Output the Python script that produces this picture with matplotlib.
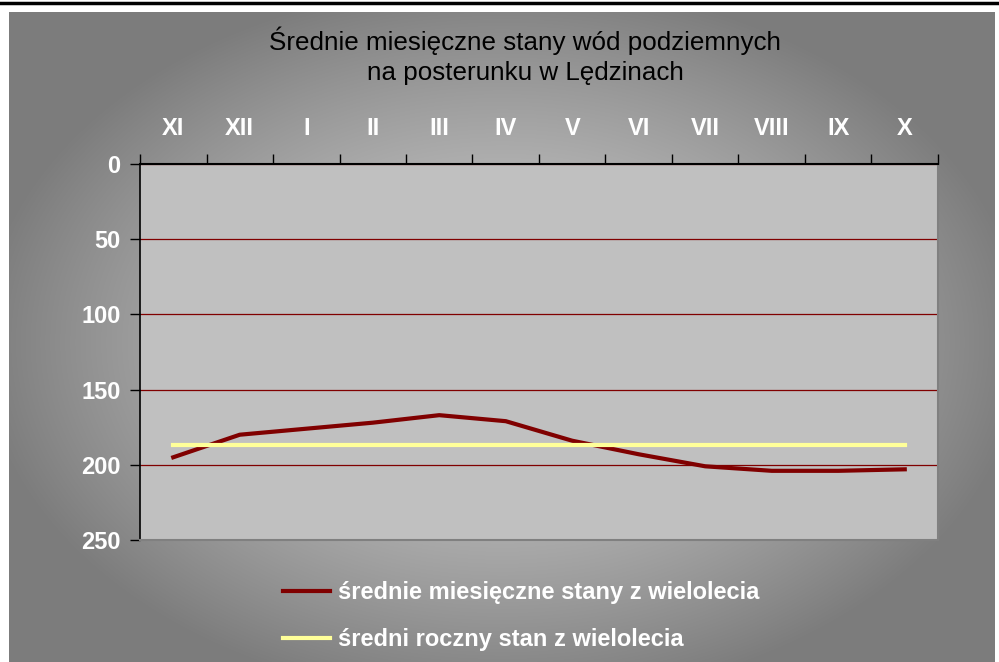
import numpy as np
import matplotlib
matplotlib.use("Agg")
import matplotlib.pyplot as plt
from matplotlib.lines import Line2D

# miesiace roku hydrologicznego
miesiace = ["XI", "XII", "I", "II", "III", "IV", "V", "VI", "VII", "VIII", "IX", "X"]
stany_miesieczne = [195, 180, 176, 172, 167, 171, 184, 193, 201, 204, 204, 203]
stan_roczny = [187] * 12
yticki = [0, 50, 100, 150, 200, 250]

plt.rcParams['font.family'] = ['Liberation Sans Narrow', 'Liberation Sans', 'DejaVu Sans']

fig = plt.figure(figsize=(9.99, 6.62), dpi=100)
fig.patch.set_facecolor("white")

# tlo z gradientem
W, H = 999, 662
tlo = fig.add_axes([9 / W, 0, (995 - 9) / W, 1 - 12 / H])
tlo.set_axis_off()
yy, xx = np.mgrid[0:650, 0:986]
cx, cy = 493, 330
d = np.sqrt(((xx - cx) / 520.0) ** 2 + ((yy - cy) / 360.0) ** 2)
d = np.clip(d, 0, 1)
szarosc = 0.80 - 0.31 * d ** 1.4
tlo.imshow(np.dstack([szarosc] * 3), aspect="auto", extent=[0, 1, 0, 1])

# czarna linia u gory
fig.add_artist(Line2D([0, 998 / W], [1 - 2.5 / H, 1 - 2.5 / H], color="black", lw=2.5))

ax = fig.add_axes([140 / W, 1 - 540 / H, (938 - 140) / W, (540 - 164) / H])
ax.set_facecolor("#C0C0C0")
x = np.arange(len(miesiace))
ax.plot(x, stany_miesieczne, color="#800000", lw=3, label="średnie miesięczne stany z wielolecia", zorder=3)
ax.plot(x, stan_roczny, color="#FFFF99", lw=3, label="średni roczny stan z wielolecia", zorder=3)

ax.set_xlim(-0.5, 11.5)
ax.set_ylim(250, 0)
ax.set_yticks(yticki)
ax.yaxis.grid(True, color="#800000", lw=0.9)
ax.set_axisbelow(True)

ax.xaxis.tick_top()
ax.set_xticks(x)
ax.set_xticklabels(miesiace)
ax.set_xticks(np.arange(-0.5, 12, 1), minor=True)
ax.tick_params(axis="x", which="major", length=0, pad=17, labelsize=17, labelcolor="white")
ax.tick_params(axis="x", which="minor", length=7, width=1, color="black", direction="out")
ax.tick_params(axis="y", length=7, width=1, color="black", pad=7, labelsize=17, labelcolor="white")
for t in ax.get_xticklabels() + ax.get_yticklabels():
    t.set_fontweight("bold")

ax.spines["top"].set_linewidth(1.5)
ax.spines["left"].set_linewidth(1.2)
ax.spines["right"].set_color("#808080")
ax.spines["bottom"].set_color("#808080")
ax.spines["right"].set_linewidth(1.5)
ax.spines["bottom"].set_linewidth(1.5)

fig.text(525 / W, 1 - 56 / H, "Średnie miesięczne stany wód podziemnych\nna posterunku w Lędzinach",
         ha="center", va="center", fontsize=18.7, color="black", linespacing=1.3)

leg = fig.legend(loc="upper left", bbox_to_anchor=(262 / W, 1 - 560 / H), frameon=False,
                 handlelength=2.0, handletextpad=0.3, labelspacing=1.0,
                 prop={"size": 17, "weight": "bold"})
for t in leg.get_texts():
    t.set_color("white")

fig.savefig("out.png", dpi=100)
